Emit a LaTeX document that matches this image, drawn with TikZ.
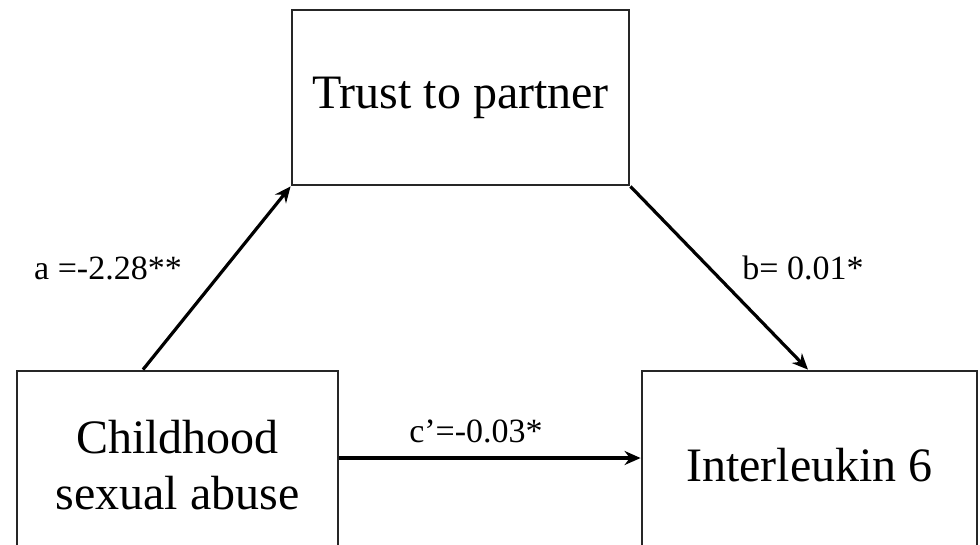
\documentclass[tikz,border=0pt]{standalone}
\usepackage{fontspec}
\setmainfont{Liberation Serif}
\usetikzlibrary{arrows.meta,calc}
\begin{document}
\begin{tikzpicture}[x=1pt,y=-1pt,
  box/.style={draw=black!85,line width=2.8pt,rectangle,align=center,inner sep=0pt,
    font=\fontsize{48}{57}\selectfont},
  arr/.style={line width=3.2pt,-{Stealth[length=16pt,width=14pt]}},
  lab/.style={font=\fontsize{34}{40}\selectfont,inner sep=0pt}]
\useasboundingbox (0,0) rectangle (980,544);
\clip (0,0) rectangle (980,544);
\node[box,minimum width=337pt,minimum height=175pt] (T) at (460.5,97.5) {Trust to partner};
\node[box,minimum width=321pt,minimum height=189pt] (L) at (177.5,465.5) {Childhood\\[-1pt]sexual abuse};
\node[box,minimum width=335pt,minimum height=189pt] (R) at (809.5,465.5) {Interleukin 6};
\coordinate (ax) at (143,0);
\coordinate (bx) at (808,0);
\coordinate (cy) at (0,458);
\draw[arr] (L.north -| ax) -- (T.south west);
\draw[arr] (T.south east) -- (R.north -| bx);
\draw[arr] (L.east |- cy) -- (R.west |- cy);
\node[lab] (la) at (108,268) {a =-2.28**};
\node[lab] (lb) at (803,268) {b= 0.01*};
\node[lab] (lc) at (476,431) {c’=-0.03*};
\end{tikzpicture}
\end{document}
